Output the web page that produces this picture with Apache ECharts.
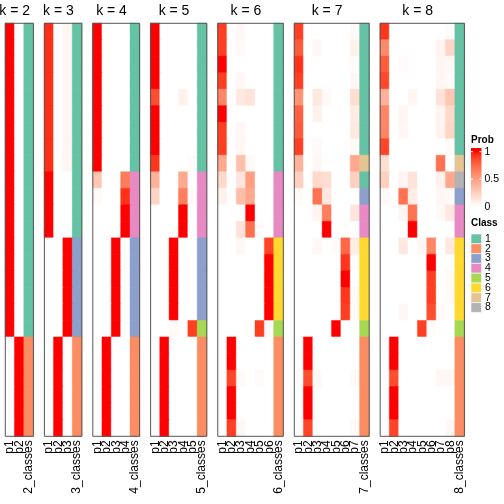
<!DOCTYPE html>
<html><head><meta charset="utf-8">
<script src="https://cdn.jsdelivr.net/npm/echarts@6/dist/echarts.min.js"></script>
<style>html,body{margin:0;padding:0;background:#fff}#c{width:504px;height:504px}</style>
</head><body><div id="c"></div>
<script>
const kValues = [2, 3, 4, 5, 6, 7, 8];
const classNames = ['1', '2', '3', '4', '5', '6', '7', '8'];
const classColors = ['#66C2A5', '#FC8D62', '#8DA0CB', '#E78AC3', '#A6D854', '#FFD92F', '#E5C494', '#B3B3B3'];
const probTicks = ['1', '0.5', '0'];

const probK2 = [
[1,0],[1,0],[1,0],[1,0],[1,0],[1,0],[1,0],[1,0],[1,0],[1,0],
[1,0],[1,0],[1,0],[1,0],[1,0],[1,0],[1,0],[1,0],[1,0],
[0,1],[0,1],[0,1],[0,1],[0,1],[0,1]];
const classK2 = [1,1,1,1,1,1,1,1,1,1,1,1,1,1,1,1,1,1,1,2,2,2,2,2,2];

const probK3 = [
[0.94,0,0.05],[0.94,0,0.05],[0.94,0,0.05],[0.94,0,0.05],[0.94,0,0.05],
[0.94,0,0.05],[0.94,0,0.05],[0.94,0,0.05],[0.94,0,0.05],
[1,0,0],[1,0,0],[1,0,0],[1,0,0],
[0,0,1],[0,0,1],[0,0,1],[0,0,1],[0,0,1],[0,0,1],
[0,1,0],[0,1,0],[0,1,0],[0,1,0],[0,1,0],[0,1,0]];
const classK3 = [1,1,1,1,1,1,1,1,1,1,1,1,1,3,3,3,3,3,3,2,2,2,2,2,2];

const probK4 = [
[1,0,0,0],[1,0,0,0],[1,0,0,0],[1,0,0,0],[1,0,0,0],[1,0,0,0],[1,0,0,0],[1,0,0,0],[1,0,0,0],
[0.3,0,0,0.66],[0.03,0,0,0.93],[0,0,0,1],[0,0,0,1],
[0,0,1,0],[0,0,1,0],[0,0,1,0],[0,0,1,0],[0,0,1,0],[0,0,1,0],
[0,1,0,0],[0,1,0,0],[0,1,0,0],[0,1,0,0],[0,1,0,0],[0,1,0,0]];
const classK4 = [1,1,1,1,1,1,1,1,1,4,4,4,4,3,3,3,3,3,3,2,2,2,2,2,2];

const probK5 = [
[1,0,0,0,0],[1,0,0,0,0],[1,0,0,0,0],[1,0,0,0,0],
[0.85,0,0,0.07,0],[1,0,0,0,0],[1,0,0,0,0],[1,0,0,0,0],[0.92,0,0,0,0.02],
[0.4,0,0,0.45,0],[0.22,0,0,0.65,0.02],[0,0,0,1,0],[0,0,0,1,0],
[0,0,1,0,0],[0,0,1,0,0],[0,0,1,0,0],[0,0,1,0,0],[0,0,1,0,0],
[0,0,0.03,0,0.9],
[0,1,0,0,0],[0,1,0,0,0],[0,1,0,0,0],[0,1,0,0,0],[0,1,0,0,0],[0,1,0,0,0]];
const classK5 = [1,1,1,1,1,1,1,1,1,4,4,4,4,3,3,3,3,3,5,2,2,2,2,2,2];

const probK6 = [
[0.9,0,0.04,0,0,0],[0.9,0,0.03,0,0,0],[1,0,0,0,0,0],[0.9,0,0.04,0,0,0],
[0.62,0,0.12,0.15,0,0],[1,0,0,0,0,0],[0.9,0,0.04,0,0,0],[0.9,0,0.04,0,0,0],
[0.45,0,0.33,0.03,0,0],
[0.2,0,0.13,0.5,0,0],[0.07,0,0.35,0.45,0,0],[0,0,0,1,0,0],[0,0,0.15,0.72,0.02,0],
[0,0,0.04,0,0,0.88],[0,0,0,0,0,1],[0,0,0,0,0,1],[0,0,0,0,0,1],[0,0,0,0,0,1],
[0,0,0,0,0.9,0.03],
[0,1,0,0,0,0],[0,1,0,0,0,0],[0,0.88,0.03,0,0.02,0],[0,1,0,0,0,0],[0,1,0,0,0,0],[0,0.9,0.04,0,0,0]];
const classK6 = [1,1,1,1,1,1,1,1,1,4,4,4,4,6,6,6,6,6,5,2,2,2,2,2,2];

const probK7 = [
[0.9,0,0,0,0,0,0.03],[0.8,0,0.04,0,0,0,0.07],[0.93,0,0,0,0,0,0.02],[0.9,0,0,0,0,0,0.04],
[0.55,0,0.12,0.03,0,0,0.18],[0.78,0,0.07,0,0,0,0.1],[0.8,0,0,0,0,0,0.12],[0.9,0,0.03,0,0,0,0.03],
[0.4,0,0.04,0,0,0,0.45],
[0.25,0,0.2,0.18,0,0,0.25],
[0.03,0,0.7,0.12,0,0,0],
[0,0,0.06,0.65,0,0,0.13],[0,0,0,1,0,0,0],
[0,0,0.04,0,0.02,0.75,0.1],[0,0,0,0,0,0.92,0.02],[0,0,0,0,0,1,0],[0,0,0,0,0,0.92,0.03],[0,0,0,0,0,0.9,0.03],
[0,0,0,0,1,0,0],
[0,1,0,0,0,0,0],[0,1,0,0,0,0,0],[0,0.85,0.03,0,0,0,0.03],[0,1,0,0,0,0,0],[0,1,0,0,0,0,0],[0,0.88,0,0,0,0,0.03]];
const classK7 = [1,1,1,1,1,1,1,1,7,1,3,4,4,6,6,6,6,6,5,2,2,2,2,2,2];

const probK8 = [
[0.92,0,0,0,0,0,0,0.02],[0.6,0,0,0,0,0,0.06,0.22],[0.8,0,0.02,0,0,0,0.05,0.04],[0.87,0,0,0,0,0,0.04,0.02],
[0.4,0,0,0.05,0,0,0.15,0.3],[0.62,0,0.05,0,0,0,0.06,0.2],[0.62,0,0.04,0,0,0,0.06,0.22],[0.88,0,0,0,0,0,0,0.03],
[0.18,0,0,0,0,0,0.7,0],
[0.25,0,0.05,0.15,0,0,0.07,0.45],
[0.03,0,0.7,0.1,0,0,0.04,0.03],
[0,0,0.05,0.7,0,0,0.03,0.12],[0,0,0,1,0,0,0,0],
[0,0,0.12,0,0.04,0.62,0,0.12],[0,0,0,0,0,1,0,0],[0,0,0,0,0,0.9,0,0.03],[0,0,0,0,0,0.9,0,0.03],[0,0,0.04,0,0,0.85,0.03,0],
[0,0,0,0,0.9,0.02,0,0],
[0,1,0,0,0,0,0,0],[0,1,0,0,0,0,0,0],[0,0.85,0,0,0,0,0.04,0.04],[0,1,0,0,0,0,0,0],[0,1,0,0,0,0,0,0],[0,0.88,0,0,0,0,0,0.04]];
const classK8 = [1,1,1,1,1,1,1,1,7,8,3,4,4,6,6,6,6,6,5,2,2,2,2,2,2];

const probByK = [probK2, probK3, probK4, probK5, probK6, probK7, probK8];
const classByK = [classK2, classK3, classK4, classK5, classK6, classK7, classK8];

// white -> red interpolation in CIELAB (as in colorRamp2)
function probColor(v) {
  v = Math.max(0, Math.min(1, v));
  const L = 100 + (53.2408 - 100) * v, A = 80.0925 * v, B = 67.2032 * v;
  const fy = (L + 16) / 116, fx = fy + A / 500, fz = fy - B / 200;
  const inv = t => t * t * t > 0.008856 ? t * t * t : (t - 16 / 116) / 7.787;
  const X = 0.95047 * inv(fx), Y = inv(fy), Z = 1.08883 * inv(fz);
  let r = 3.2406 * X - 1.5372 * Y - 0.4986 * Z;
  let g = -0.9689 * X + 1.8758 * Y + 0.0415 * Z;
  let b = 0.0557 * X - 0.2040 * Y + 1.0570 * Z;
  const gam = c => { c = Math.max(0, Math.min(1, c)); return c <= 0.0031308 ? 12.92 * c : 1.055 * Math.pow(c, 1 / 2.4) - 0.055; };
  const h = c => Math.round(gam(c) * 255);
  return 'rgb(' + h(r) + ',' + h(g) + ',' + h(b) + ')';
}

const chart = echarts.init(document.getElementById('c'), null, {renderer: 'canvas'});
const FONT = 'Liberation Sans, Arial, sans-serif';
const colW = 9.36, gap = 11, gTop = 23.3, gHeight = 413, nRows = 25;
const grids = [], xAxes = [], yAxes = [], series = [], graphics = [];
let gLeft = 5.3;
const rowCats = [];
for (let r = 0; r < nRows; r++) rowCats.push(String(r));

kValues.forEach((k, i) => {
  const width = (k + 1) * colW;
  grids.push({left: gLeft, top: gTop, width: width, height: gHeight, containLabel: false});
  const cats = [];
  for (let c = 1; c <= k; c++) cats.push('p' + c);
  cats.push(k + '_classes');
  xAxes.push({type: 'category', gridIndex: i, data: cats, position: 'bottom',
    axisLine: {show: false}, axisTick: {show: false}, splitLine: {show: false},
    axisLabel: {rotate: 90, interval: 0, fontSize: 12, color: '#000', margin: 4, fontFamily: FONT}});
  yAxes.push({type: 'category', gridIndex: i, data: rowCats, inverse: true, show: false});
  const probs = probByK[i], cls = classByK[i];
  const data = [];
  for (let r = 0; r < nRows; r++) {
    for (let c = 0; c < k; c++) {
      const col = probColor(probs[r][c]);
      data.push({value: [c, r, probs[r][c]], itemStyle: {color: col, borderColor: col, borderWidth: 0.4}});
    }
    const cc = classColors[cls[r] - 1];
    data.push({value: [k, r, cls[r]], itemStyle: {color: cc, borderColor: cc, borderWidth: 0.4}});
  }
  series.push({type: 'heatmap', xAxisIndex: i, yAxisIndex: i, data: data, silent: true,
    emphasis: {disabled: true}, progressive: 0, animation: false});
  graphics.push({type: 'rect', z: 100, silent: true,
    shape: {x: gLeft, y: gTop, width: width, height: gHeight},
    style: {fill: null, stroke: '#555', lineWidth: 1}});
  graphics.push({type: 'text', x: gLeft + k * colW / 2, y: 11,
    style: {text: 'k = ' + k, font: '14px ' + FONT, fill: '#000', textAlign: 'center', textVerticalAlign: 'middle'}});
  gLeft += width + gap;
});

// Prob legend
const lx = 471, barTop = 148, barBot = 210, v1y = 151.7, v0y = 206.7;
const stops = [];
for (let s = 0; s <= 20; s++) {
  const off = s / 20, y = barTop + (barBot - barTop) * off;
  stops.push({offset: off, color: probColor((v0y - y) / (v0y - v1y))});
}
graphics.push({type: 'text', x: lx, y: 140, style: {text: 'Prob', font: 'bold 10px ' + FONT, fill: '#000', textVerticalAlign: 'middle'}});
graphics.push({type: 'rect', shape: {x: lx, y: barTop, width: 10.5, height: barBot - barTop},
  style: {fill: new echarts.graphic.LinearGradient(0, 0, 0, 1, stops)}});
probTicks.forEach((t, j) => {
  const y = v1y + (v0y - v1y) * j / 2;
  graphics.push({type: 'text', x: 484.5, y: y, style: {text: t, font: '10.5px ' + FONT, fill: '#000', textVerticalAlign: 'middle'}});
  if (j < 2) {
    graphics.push({type: 'line', shape: {x1: lx, y1: y, x2: lx + 2, y2: y}, style: {stroke: '#fff', lineWidth: 1}, z: 10});
    graphics.push({type: 'line', shape: {x1: lx + 8.5, y1: y, x2: lx + 10.5, y2: y}, style: {stroke: '#fff', lineWidth: 1}, z: 10});
  }
});
// Class legend
graphics.push({type: 'text', x: lx, y: 223, style: {text: 'Class', font: 'bold 10px ' + FONT, fill: '#000', textVerticalAlign: 'middle'}});
classNames.forEach((n, j) => {
  const y = 234 + j * 9.8;
  graphics.push({type: 'rect', shape: {x: lx, y: y, width: 10.5, height: 9.8},
    style: {fill: classColors[j], stroke: '#fff', lineWidth: 0.6}});
  graphics.push({type: 'text', x: 485, y: y + 4.9, style: {text: n, font: '10.5px ' + FONT, fill: '#000', textVerticalAlign: 'middle'}});
});

chart.setOption({
  animation: false,
  backgroundColor: '#fff',
  grid: grids, xAxis: xAxes, yAxis: yAxes, series: series,
  graphic: graphics
});
</script>
</body></html>
